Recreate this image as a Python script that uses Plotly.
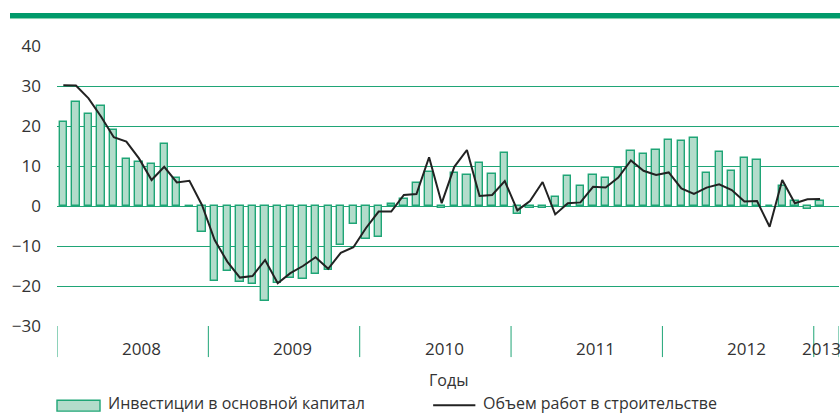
import plotly.graph_objects as go

# Monthly data, Jan 2008 .. Jan 2013 (% y/y)
investment = [20.9, 26.1, 23.0, 25.1, 19.1, 11.7, 10.9, 10.5, 15.5, 6.9, -0.3, -6.5,
              -18.7, -16.2, -19.1, -19.6, -23.7, -19.3, -18.1, -18.3, -16.9, -16.0, -9.7, -4.6,
              -8.2, -7.7, 0.4, 1.7, 5.7, 8.4, -0.6, 8.2, 7.8, 10.7, 8.0, 13.3,
              -2.1, -0.6, -0.4, 2.2, 7.4, 4.9, 7.8, 7.0, 9.5, 13.7, 12.9, 14.0,
              16.4, 16.2, 17.0, 8.2, 13.4, 8.8, 12.1, 11.4, -0.1, 5.0, 1.2, -0.75,
              1.2]
construction = [30.2, 30.1, 26.9, 22.3, 17.2, 16.1, 11.9, 6.5, 9.8, 5.9, 6.3, 0.2,
                -8.5, -13.9, -17.9, -17.5, -13.5, -19.3, -16.8, -15.0, -12.8, -15.7, -11.7, -10.3,
                -5.5, -1.4, -1.4, 2.75, 3.0, 12.2, 0.7, 9.8, 14.0, 2.5, 2.75, 6.25,
                -1.1, 1.25, 6.0, -2.1, 0.7, 0.9, 4.8, 4.6, 7.1, 11.4, 8.8, 7.75,
                8.4, 4.4, 3.0, 4.6, 5.4, 4.0, 1.1, 1.25, -5.2, 6.5, 0.7, 1.7,
                1.75]
years = ["2008", "2009", "2010", "2011", "2012", "2013"]
year_months = [12, 12, 12, 12, 12, 2]
y_ticks = [40, 30, 20, 10, 0, -10, -20, -30]
bar_name = "Инвестиции в основной капитал"
line_name = "Объем работ в строительстве"
x_title = "Годы"

months = list(range(len(investment)))
total_months = sum(year_months)

GREEN = "#1fa576"
FILL = "#b3dccb"
FONT = "Open Sans, Noto Sans, sans-serif"
TXT = "#333333"

fig = go.Figure()
fig.add_trace(go.Bar(x=months, y=investment, name=bar_name, width=0.58,
                     marker=dict(color=FILL, line=dict(color=GREEN, width=1.4)),
                     showlegend=False))
fig.add_trace(go.Scatter(x=months, y=construction, name=line_name, mode="lines",
                         line=dict(color="#222222", width=2), showlegend=False))

shapes = []
annotations = []
# year dividers and labels
start = 0
bounds = [-0.5]
for yr, n in zip(years, year_months):
    end = start + n
    bounds.append(end - 0.5)
    lx = min(start + 6.2, total_months - 1.9)
    annotations.append(dict(x=lx, y=-0.079, xref="x", yref="paper", text=yr,
                            showarrow=False, font=dict(family=FONT, size=17, color=TXT),
                            xanchor="center", yanchor="middle"))
    start = end
for b in bounds:
    shapes.append(dict(type="line", xref="x", yref="paper", x0=b, x1=b, y0=0, y1=-0.111,
                       line=dict(color=GREEN, width=1)))

# axis title
annotations.append(dict(x=0.5, y=-0.193, xref="paper", yref="paper", text=x_title,
                        showarrow=False, xanchor="center", yanchor="middle",
                        font=dict(family=FONT, size=16, color=TXT)))

# custom legend
shapes.append(dict(type="rect", xref="paper", yref="paper", x0=0.0, x1=0.055,
                   y0=-0.304, y1=-0.265, fillcolor=FILL, line=dict(color=GREEN, width=1.4)))
annotations.append(dict(x=0.063, y=-0.276, xref="paper", yref="paper", text=bar_name,
                        showarrow=False, xanchor="left", yanchor="middle",
                        font=dict(family=FONT, size=16, color=TXT)))
shapes.append(dict(type="line", xref="paper", yref="paper", x0=0.481, x1=0.535,
                   y0=-0.283, y1=-0.283, line=dict(color="#222222", width=2)))
annotations.append(dict(x=0.542, y=-0.276, xref="paper", yref="paper", text=line_name,
                        showarrow=False, xanchor="left", yanchor="middle",
                        font=dict(family=FONT, size=16, color=TXT)))

# top decorative band
shapes.append(dict(type="rect", xref="paper", yref="paper", x0=-0.0601, x1=1.01,
                   y0=1.1, y1=1.118, fillcolor="#009a6a", line=dict(width=0)))
shapes.append(dict(type="line", xref="paper", yref="paper", x0=-0.0601, x1=1.01,
                   y0=1.098, y1=1.098, line=dict(color="#7fd0ae", width=1)))

fig.update_layout(
    width=840, height=415,
    margin=dict(l=57, r=1, t=46, b=89),
    paper_bgcolor="white", plot_bgcolor="white",
    bargap=0,
    shapes=shapes, annotations=annotations,
    font=dict(family=FONT, size=16, color=TXT),
)
fig.update_xaxes(range=[-0.5, total_months - 0.5], showticklabels=False, showgrid=False,
                 zeroline=False, showline=False, fixedrange=True)
fig.update_yaxes(range=[-30, 40], tickvals=y_ticks, showgrid=True, gridcolor=GREEN,
                 gridwidth=1, zeroline=True, zerolinecolor=GREEN, zerolinewidth=1.2,
                 showline=False, ticklabelstandoff=15,
                 tickfont=dict(family=FONT, size=17, color=TXT), fixedrange=True)

fig.write_html("out.html", config={"displayModeBar": False},
               post_script="document.body.style.margin='0';document.body.style.overflow='hidden';")
